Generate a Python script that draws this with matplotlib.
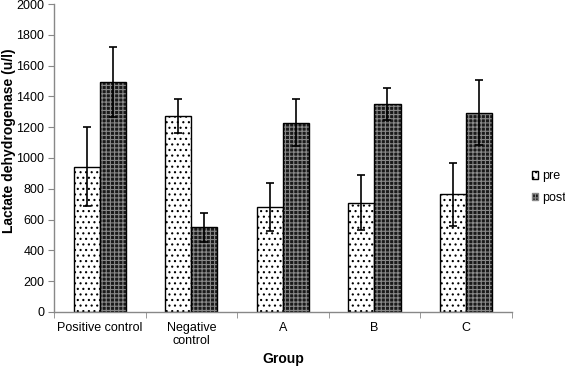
import numpy as np
import matplotlib.pyplot as plt
from matplotlib.patches import Patch

plt.rcParams['font.family'] = ['Liberation Sans', 'DejaVu Sans']
plt.rcParams['hatch.linewidth'] = 0.8

groups = ["Positive control", "Negative\ncontrol", "A", "B", "C"]
pre = [943, 1275, 684, 710, 764]
pre_err = [257, 110, 155, 180, 205]
post = [1495, 550, 1229, 1349, 1294]
post_err = [228, 95, 152, 103, 210]

fig = plt.figure(figsize=(5.65, 3.67), dpi=100)
ax = fig.add_axes([0.0956, 0.150, 0.810, 0.839])

x = np.arange(len(groups))
w = 0.286

# pre: white with dots
ax.bar(x - w / 2, pre, w, facecolor="white", edgecolor="black", hatch="...", linewidth=0)
ax.bar(x - w / 2, pre, w, fill=False, edgecolor="black", linewidth=1.0)
# post: dark checker
ax.bar(x + w / 2, post, w, facecolor="#1a1a1a", edgecolor="#8a8a8a", hatch="++++", linewidth=0)
ax.bar(x + w / 2, post, w, fill=False, edgecolor="black", linewidth=1.0)

ax.errorbar(x - w / 2, pre, yerr=pre_err, fmt="none", ecolor="black", elinewidth=1.2, capsize=3, capthick=1.2)
ax.errorbar(x + w / 2, post, yerr=post_err, fmt="none", ecolor="black", elinewidth=1.2, capsize=3, capthick=1.2)

ax.set_xlim(-0.5, len(groups) - 0.5)
ax.set_ylim(0, 2000)
ax.set_yticks(range(0, 2001, 200))
ax.tick_params(axis="y", labelsize=9, color="#888888", length=4, pad=3)

ax.set_xticks(x)
ax.set_xticklabels(groups, fontsize=9, linespacing=1.2)
ax.tick_params(axis="x", length=0, pad=7)
ax.set_xticks(np.arange(len(groups) + 1) - 0.5, minor=True)
ax.tick_params(axis="x", which="minor", length=4, color="#888888")

for s in ["top", "right"]:
    ax.spines[s].set_visible(False)
for s in ["left", "bottom"]:
    ax.spines[s].set_color("#888888")
    ax.spines[s].set_linewidth(1.0)

ax.set_xlabel("Group", fontsize=10, fontweight="bold", labelpad=3)
ax.set_ylabel("Lactate dehydrogenase (u/l)", fontsize=10, fontweight="bold")
ax.yaxis.set_label_coords(-0.083, 0.555)

handles = [Patch(facecolor="white", edgecolor="black", hatch="..."),
           Patch(facecolor="#1a1a1a", edgecolor="#8a8a8a", hatch="++++")]
fig.legend(handles, ["pre", "post"], loc="center left", bbox_to_anchor=(0.9416, 0.49),
           frameon=False, fontsize=9, handlelength=0.5, handleheight=0.5,
           handletextpad=0.3, labelspacing=0.75, borderpad=0, borderaxespad=0)

fig.savefig("out.png", dpi=100)
